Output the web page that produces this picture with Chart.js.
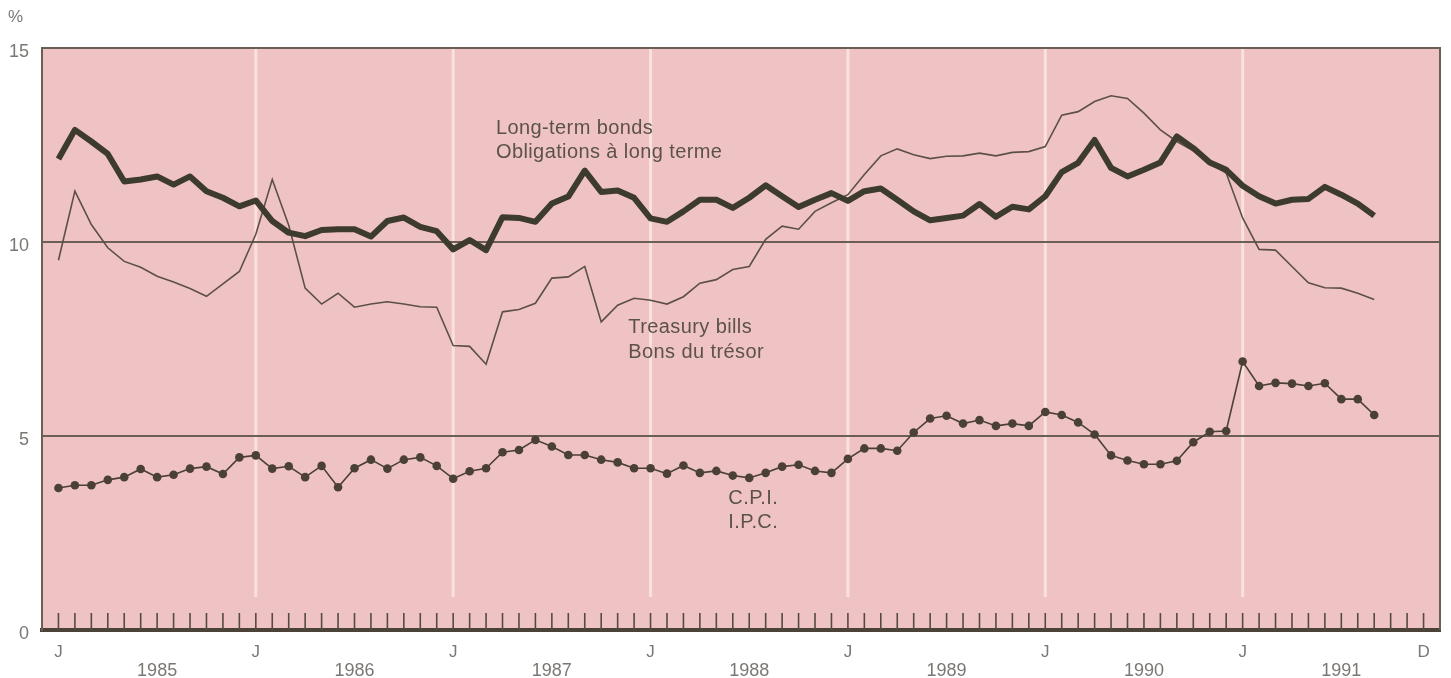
<!DOCTYPE html>
<html lang="en">
<head>
<meta charset="UTF-8">
<title>Interest rates and CPI, 1985-1991</title>
<script src="https://cdn.jsdelivr.net/npm/chart.js"></script>
<style>
  html, body { margin: 0; padding: 0; background: #ffffff; }
  #wrap { width: 1451px; height: 678px; position: relative; }
</style>
</head>
<body>
<div id="wrap"><canvas id="rates"></canvas></div>
<script>
// monthly values, Jan 1985 .. Sep 1991 (index 0 = Jan 1985)
const years = ['1985', '1986', '1987', '1988', '1989', '1990', '1991'];
const monthTicks = ['J', 'D'];

const bonds = [
  12.14, 12.89, 12.59, 12.27, 11.56, 11.61, 11.69, 11.48, 11.69, 11.31, 11.14, 10.92,
  11.07, 10.54, 10.24, 10.15, 10.31, 10.33, 10.33, 10.14, 10.54, 10.63, 10.39, 10.28,
  9.81, 10.05, 9.79, 10.64, 10.62, 10.52, 10.99, 11.17, 11.84, 11.29, 11.33, 11.14,
  10.61, 10.52, 10.79, 11.09, 11.09, 10.88, 11.14, 11.46, 11.18, 10.9, 11.09, 11.26,
  11.06, 11.31, 11.38, 11.09, 10.79, 10.56, 10.62, 10.68, 10.98, 10.65, 10.91, 10.84,
  11.18, 11.8, 12.04, 12.63, 11.91, 11.69, 11.86, 12.05, 12.72, 12.42, 12.05, 11.86,
  11.45, 11.18, 10.99, 11.09, 11.11, 11.42, 11.22, 10.99, 10.68
];

const tbills = [
  9.53, 11.31, 10.45, 9.85, 9.5, 9.35, 9.12, 8.97, 8.8, 8.6, 8.92, 9.24,
  10.2, 11.61, 10.43, 8.81, 8.4, 8.68, 8.32, 8.4, 8.46, 8.4, 8.33, 8.32,
  7.33, 7.31, 6.85, 8.2, 8.26, 8.42, 9.07, 9.1, 9.37, 7.94, 8.37, 8.55,
  8.5, 8.4, 8.59, 8.94, 9.03, 9.29, 9.37, 10.07, 10.41, 10.33, 10.79, 11.01,
  11.22, 11.74, 12.22, 12.4, 12.25, 12.15, 12.21, 12.22, 12.29, 12.22, 12.31, 12.33,
  12.46, 13.27, 13.36, 13.62, 13.77, 13.7, 13.32, 12.89, 12.59, 12.35, 12.03, 11.78,
  10.62, 9.81, 9.79, 9.37, 8.95, 8.82, 8.81, 8.68, 8.52
];

const cpi = [
  3.66, 3.73, 3.73, 3.87, 3.94, 4.15, 3.94, 4.0, 4.16, 4.21, 4.02, 4.45,
  4.5, 4.16, 4.22, 3.94, 4.23, 3.68, 4.17, 4.39, 4.16, 4.39, 4.45, 4.23,
  3.9, 4.09, 4.17, 4.58, 4.64, 4.9, 4.73, 4.51, 4.51, 4.39, 4.32, 4.17,
  4.17, 4.03, 4.24, 4.05, 4.1, 3.98, 3.92, 4.05, 4.21, 4.26, 4.1, 4.05,
  4.41, 4.68, 4.68, 4.62, 5.09, 5.45, 5.52, 5.32, 5.41, 5.26, 5.32, 5.26,
  5.62, 5.54, 5.35, 5.04, 4.5, 4.37, 4.27, 4.27, 4.36, 4.84, 5.11, 5.13,
  6.92, 6.29, 6.37, 6.35, 6.29, 6.36, 5.95, 5.95, 5.54
];

const yTicks = [0, 5, 10, 15];

// series captions, anchored in data units (month index, percent)
const captions = [
  { lines: ['Long-term bonds', 'Obligations à long terme'], x: 26.6, y: 12.79 },
  { lines: ['Treasury bills', 'Bons du trésor'], x: 34.65, y: 7.65 },
  { lines: ['C.P.I.', 'I.P.C.'], x: 40.73, y: 3.25 }
];

const FONT = "'Liberation Sans', Arial, Helvetica, sans-serif";
const INK = '#4a4036';
const FRAME = '#6b5f53';
const nMonths = years.length * 12;

const toPoints = arr => arr.map((v, i) => ({ x: i, y: v }));

const decor = {
  id: 'decor',
  beforeDraw(chart) {
    const { ctx, chartArea: a, scales: { x, y } } = chart;
    ctx.save();
    ctx.fillStyle = '#efc3c4';
    ctx.fillRect(a.left, a.top, a.right - a.left, a.bottom - a.top);
    // pale rules at each January
    ctx.strokeStyle = 'rgba(255,236,236,0.7)';
    ctx.lineWidth = 3;
    const yEnd = y.getPixelForValue(0.85);
    for (let m = 12; m < nMonths; m += 12) {
      const px = x.getPixelForValue(m);
      ctx.beginPath();
      ctx.moveTo(px, a.top);
      ctx.lineTo(px, yEnd);
      ctx.stroke();
    }
    ctx.restore();
  },
  beforeDatasetsDraw(chart) {
    const { ctx, chartArea: a, scales: { x, y } } = chart;
    ctx.save();
    // month ticks pointing up from the axis
    ctx.strokeStyle = '#564a40';
    ctx.lineWidth = 1.6;
    const base = y.getPixelForValue(0);
    for (let m = 0; m < nMonths; m++) {
      const px = x.getPixelForValue(m);
      ctx.beginPath();
      ctx.moveTo(px, base);
      ctx.lineTo(px, base - 17);
      ctx.stroke();
    }
    // top and right frame
    ctx.strokeStyle = FRAME;
    ctx.lineWidth = 2;
    ctx.beginPath();
    ctx.moveTo(a.left, a.top);
    ctx.lineTo(a.right, a.top);
    ctx.lineTo(a.right, a.bottom);
    ctx.stroke();
    ctx.restore();
  },
  afterDatasetsDraw(chart) {
    const { ctx, chartArea: a, scales: { x, y } } = chart;
    ctx.save();
    ctx.fillStyle = '#5c524b';
    ctx.font = '20px ' + FONT;
    ctx.textBaseline = 'alphabetic';
    ctx.textAlign = 'left';
    if ('letterSpacing' in ctx) ctx.letterSpacing = '0.4px';
    captions.forEach(c => {
      const px = x.getPixelForValue(c.x);
      const py = y.getPixelForValue(c.y);
      c.lines.forEach((t, i) => ctx.fillText(t, px, py + i * 24.5));
    });
    ctx.fillStyle = '#7b7773';
    ctx.font = '17px ' + FONT;
    ctx.fillText('%', a.left - 34, a.top - 26);
    ctx.restore();
  }
};

new Chart(document.getElementById('rates'), {
  type: 'line',
  data: {
    datasets: [
      {
        label: 'Long-term bonds',
        data: toPoints(bonds),
        borderColor: '#3d3a2e',
        borderWidth: 6,
        borderJoinStyle: 'round',
        pointRadius: 0,
        tension: 0
      },
      {
        label: 'Treasury bills',
        data: toPoints(tbills),
        borderColor: '#5c5046',
        borderWidth: 1.6,
        pointRadius: 0,
        tension: 0
      },
      {
        label: 'C.P.I.',
        data: toPoints(cpi),
        borderColor: INK,
        borderWidth: 1.6,
        pointRadius: 4.3,
        pointBackgroundColor: INK,
        pointBorderWidth: 0,
        tension: 0
      }
    ]
  },
  options: {
    responsive: true,
    maintainAspectRatio: false,
    animation: false,
    layout: { padding: { left: 0, right: 11, top: 48, bottom: 0 } },
    plugins: {
      legend: { display: false },
      tooltip: { enabled: false }
    },
    scales: {
      x: {
        type: 'linear',
        min: -1,
        max: nMonths,
        weight: 0,
        afterBuildTicks: s => {
          const t = [];
          for (let m = 0; m < nMonths; m += 12) t.push({ value: m });
          t.push({ value: nMonths - 1 });
          s.ticks = t;
        },
        afterFit: s => { s.height = 30; },
        ticks: {
          autoSkip: false,
          maxRotation: 0,
          padding: 12,
          color: '#7b7773',
          font: { family: FONT, size: 17 },
          callback: v => (v === nMonths - 1 ? monthTicks[1] : monthTicks[0])
        },
        grid: { display: false, drawTicks: false },
        border: { display: true, color: '#4a4238', width: 4 }
      },
      x2: {
        type: 'linear',
        position: 'bottom',
        min: -1,
        max: nMonths,
        weight: 1,
        afterBuildTicks: s => {
          s.ticks = years.map((_, k) => ({ value: k * 12 + 6 }));
        },
        afterFit: s => { s.height = 18; },
        ticks: {
          autoSkip: false,
          maxRotation: 0,
          padding: 0,
          color: '#7b7773',
          font: { family: FONT, size: 18 },
          callback: (v, i) => years[i]
        },
        grid: { display: false, drawTicks: false },
        border: { display: false }
      },
      y: {
        min: 0,
        max: 15,
        afterBuildTicks: s => { s.ticks = yTicks.map(v => ({ value: v })); },
        afterFit: s => { s.width = 42; },
        ticks: {
          padding: 13,
          labelOffset: 4,
          color: '#7b7773',
          font: { family: FONT, size: 18 }
        },
        grid: {
          drawTicks: false,
          lineWidth: 2,
          color: c => (c.tick && (c.tick.value === 5 || c.tick.value === 10)) ? FRAME : 'rgba(0,0,0,0)'
        },
        border: { display: true, color: FRAME, width: 2 }
      }
    }
  },
  plugins: [decor]
});
</script>
</body>
</html>
